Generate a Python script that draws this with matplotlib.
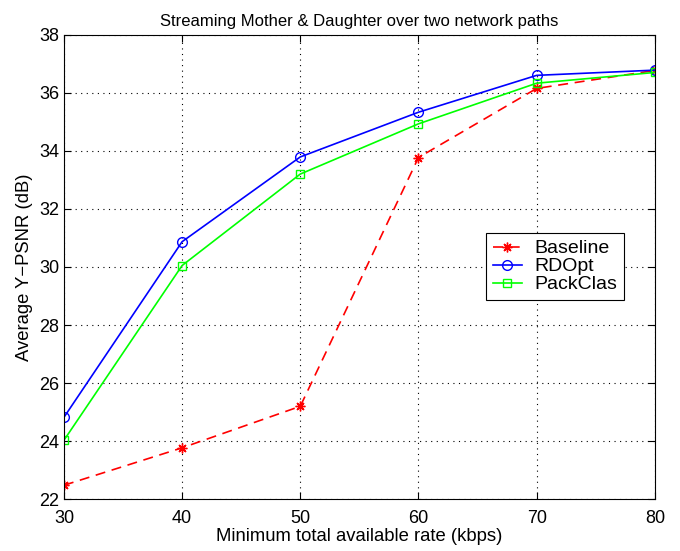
import matplotlib
matplotlib.use('Agg')
import matplotlib.pyplot as plt

rate = [30, 40, 50, 60, 70, 80]
baseline = [22.48, 23.77, 25.2, 33.77, 36.15, 36.77]
rdopt = [24.82, 30.87, 33.79, 35.33, 36.6, 36.78]
packclas = [24.03, 30.05, 33.2, 34.93, 36.33, 36.7]

plt.rcParams['font.family'] = ['Liberation Sans', 'DejaVu Sans']

fig = plt.figure(figsize=(6.8, 5.51), dpi=100)
ax = fig.add_axes([0.094, 0.094, 0.869, 0.843])

# matlab style asterisk: 8 spokes
ax.plot(rate, baseline, '--', color='red', marker=(8, 2, 0), markersize=7, markeredgewidth=1.0,
        linewidth=1.2, label='Baseline', dashes=(6, 4))
ax.plot(rate, rdopt, '-', color='blue', marker='o', markersize=7, markerfacecolor='none', linewidth=1.2, label='RDOpt')
ax.plot(rate, packclas, '-', color='#00ff00', marker='s', markersize=6, markerfacecolor='none', linewidth=1.2, label='PackClas')

ax.set_xlim(30, 80)
ax.set_ylim(22, 38)
ax.set_xticks(range(30, 81, 10))
ax.set_yticks(range(22, 39, 2))
ax.grid(True, linestyle=(0, (1, 4)), color='black', linewidth=0.8)
ax.tick_params(direction='in', top=True, right=True, labelsize=13, length=5)
ax.tick_params(axis='x', pad=7.5)
for s in ax.spines.values():
    s.set_linewidth(0.8)

ax.set_title('Streaming Mother & Daughter over two network paths', fontsize=12)
ax.set_xlabel('Minimum total available rate (kbps)', fontsize=13.3, labelpad=1)
ax.set_ylabel('Average Y\u2212PSNR (dB)', fontsize=13.3)

leg = ax.legend(loc='upper left', bbox_to_anchor=(0.714, 0.573), borderaxespad=0, fontsize=14, fancybox=False,
                edgecolor='black', framealpha=1, handlelength=1.5, handletextpad=0.65,
                borderpad=0.35, labelspacing=0.02)
leg.get_frame().set_linewidth(0.8)

fig.savefig('out.png', dpi=100)
